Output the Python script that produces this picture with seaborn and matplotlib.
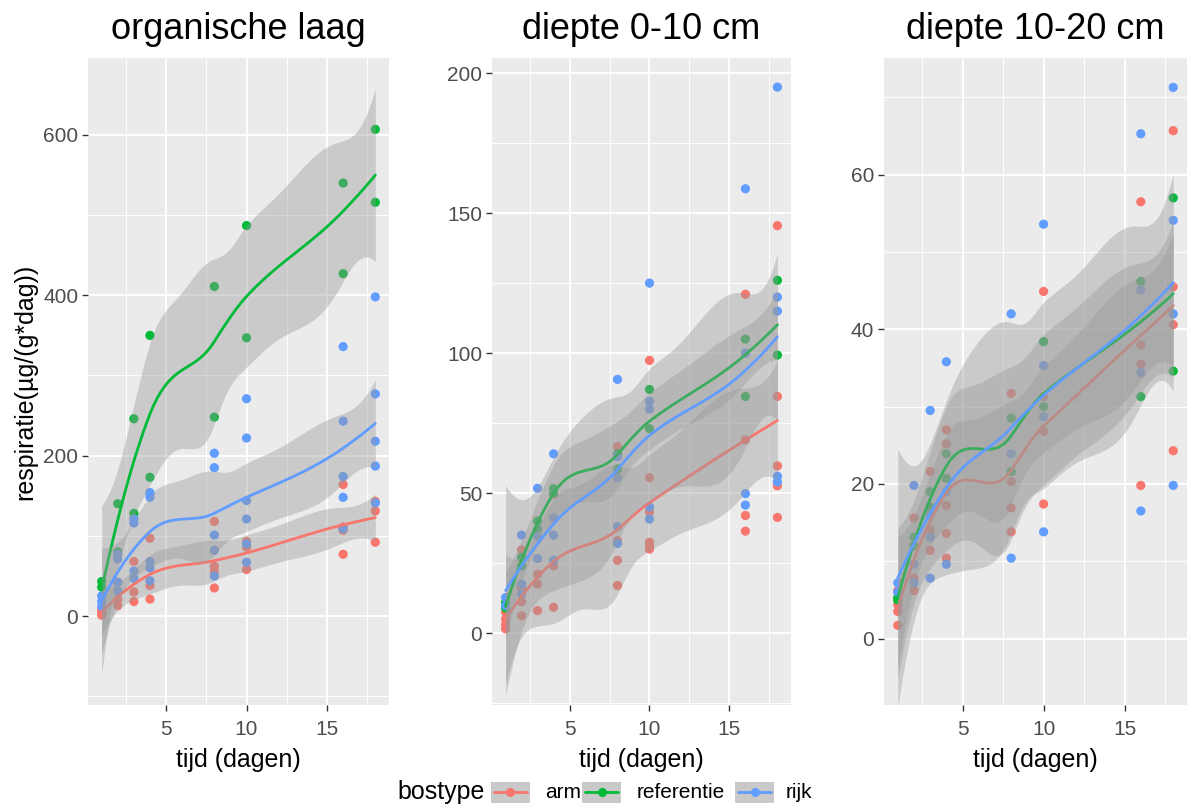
import numpy as np
import pandas as pd
import matplotlib
matplotlib.use("Agg")
import matplotlib.pyplot as plt
import seaborn as sns
from matplotlib.patches import Rectangle
from matplotlib.lines import Line2D

# ---------------- data ----------------
panels = ["organische laag", "diepte 0-10 cm", "diepte 10-20 cm"]
bostypes = ["arm", "referentie", "rijk"]
colors = ["#F8766D", "#00BA38", "#619CFF"]

# organische laag
org_arm_t = [1, 1, 1, 2, 2, 2, 3, 3, 3, 4, 4, 4, 8, 8, 8, 8, 10, 10, 10, 16, 16, 16, 16, 18, 18, 18]
org_arm_y = [8, 4, 1, 42, 21, 13, 68, 30, 18, 97, 38, 21, 118, 62, 56, 35, 93, 86, 58, 164, 111, 107, 77, 143, 131, 92]
org_ref_t = [1, 1, 2, 2, 3, 3, 4, 4, 8, 8, 10, 10, 16, 16, 18, 18]
org_ref_y = [43, 36, 140, 80, 246, 128, 350, 173, 411, 248, 487, 347, 540, 427, 607, 516]
org_rijk_t = [1, 1, 1, 2, 2, 2, 2, 3, 3, 3, 3, 4, 4, 4, 4, 4, 4, 8, 8, 8, 8, 8,
              10, 10, 10, 10, 10, 10, 16, 16, 16, 16, 16, 18, 18, 18, 18, 18]
org_rijk_y = [25, 18, 12, 77, 71, 42, 31, 121, 116, 56, 47, 154, 152, 148, 68, 60, 44, 203, 185, 101, 82, 50,
              271, 222, 144, 121, 90, 67, 336, 243, 174, 148, 109, 398, 277, 218, 187, 141]

# diepte 0-10 cm
d1_arm_t = [1, 1, 1, 1, 2, 2, 2, 2, 3, 3, 3, 4, 4, 4, 8, 8, 8, 8, 10, 10, 10, 10, 10, 10, 16, 16, 16, 16, 18, 18, 18, 18, 18]
d1_arm_y = [7.5, 5, 3, 1.5, 29.7, 16, 11.2, 6.2, 21, 17.5, 8, 49.6, 24, 9.2, 66.6, 33, 26, 17,
            97.4, 55.5, 43.3, 32.4, 31.2, 30, 121, 69, 42, 36.4, 145.5, 84.5, 59.7, 52.6, 41.3]
d1_ref_t = [1, 1, 2, 2, 3, 3, 4, 4, 8, 8, 10, 10, 16, 16, 18, 18]
d1_ref_y = [11, 9, 27, 24, 40, 37, 51.6, 50, 64, 58.6, 87, 73, 105, 84.5, 126, 99.3]
d1_rijk_t = [1, 1, 2, 2, 2, 3, 3, 3, 4, 4, 4, 4, 8, 8, 8, 8, 8, 10, 10, 10, 10, 10, 16, 16, 16, 16, 18, 18, 18, 18, 18]
d1_rijk_y = [12.7, 9.8, 35, 17.5, 13.9, 51.7, 34.5, 26.6, 64, 41.2, 35, 26, 90.6, 63, 55.5, 38, 32,
             125, 82.8, 80, 45, 40.7, 158.7, 100, 49.8, 45.7, 195, 120, 115, 56, 54]

# diepte 10-20 cm
d2_arm_t = [1, 1, 1, 1, 2, 2, 2, 3, 3, 3, 4, 4, 4, 4, 4, 8, 8, 8, 8, 10, 10, 10, 10, 16, 16, 16, 16, 18, 18, 18, 18]
d2_arm_y = [6.2, 4.4, 3.5, 1.7, 15.6, 7.8, 6.2, 21.6, 14.1, 11.4, 27, 25.2, 17.2, 13.6, 10.4, 31.7, 20.3, 16.9, 13.8,
            44.9, 31.3, 26.8, 17.4, 56.5, 38, 35.5, 19.8, 65.7, 45.5, 40.6, 24.3]
d2_ref_t = [1, 1, 2, 2, 3, 3, 4, 4, 8, 8, 10, 10, 16, 16, 18, 18]
d2_ref_y = [5.3, 5.0, 13.1, 12, 19, 17, 23.9, 20.7, 28.5, 21.6, 38.4, 30, 46.2, 31.3, 57, 34.6]
d2_rijk_t = [1, 1, 2, 2, 2, 3, 3, 3, 3, 4, 4, 4, 8, 8, 8, 10, 10, 10, 10, 16, 16, 16, 16, 18, 18, 18, 18]
d2_rijk_y = [7.2, 6, 19.8, 9.6, 7.2, 29.5, 16, 13.1, 7.8, 35.8, 19, 9.6, 42, 23.9, 10.4,
             53.6, 35.3, 28.7, 13.8, 65.3, 45.1, 34.4, 16.5, 71.3, 54.1, 42, 19.8]

series = {
    panels[0]: [(org_arm_t, org_arm_y), (org_ref_t, org_ref_y), (org_rijk_t, org_rijk_y)],
    panels[1]: [(d1_arm_t, d1_arm_y), (d1_ref_t, d1_ref_y), (d1_rijk_t, d1_rijk_y)],
    panels[2]: [(d2_arm_t, d2_arm_y), (d2_ref_t, d2_ref_y), (d2_rijk_t, d2_rijk_y)],
}

rows = []
for p in panels:
    for b, (tt, yy) in zip(bostypes, series[p]):
        for t, v in zip(tt, yy):
            rows.append((p, b, t, v))
df = pd.DataFrame(rows, columns=["panel", "bostype", "tijd", "resp"])


# ---------------- loess (span 0.75, degree 2, vertex interpolation) with 95% CI ----------------
def tq975(dfree):
    z = 1.959964
    return (z + (z**3 + z) / (4 * dfree) + (5 * z**5 + 16 * z**3 + 3 * z) / (96 * dfree**2))


def loess_ci(x, y, xe, span=0.75):
    x = np.asarray(x, float)
    y = np.asarray(y, float)
    n = len(x)
    q = int(np.floor(n * span))

    def local(x0):
        d = np.abs(x - x0)
        h = np.sort(d)[q - 1] * 1.0001 + 1e-9
        w = np.clip(1 - (d / h) ** 3, 0, None) ** 3
        X = np.column_stack([np.ones(n), x - x0, (x - x0) ** 2])
        XtW = X.T * w
        B = np.linalg.solve(XtW @ X, XtW)
        return B[0], B[1]

    verts = np.unique(x)
    V = [local(v) for v in verts]

    def op(pts):
        L = np.zeros((len(pts), n))
        for k, x0 in enumerate(pts):
            j = np.searchsorted(verts, x0, side="right") - 1
            j = min(max(j, 0), len(verts) - 2)
            xa, xb = verts[j], verts[j + 1]
            hh = xb - xa
            t = (x0 - xa) / hh
            h00 = 2 * t**3 - 3 * t**2 + 1
            h10 = t**3 - 2 * t**2 + t
            h01 = -2 * t**3 + 3 * t**2
            h11 = t**3 - t**2
            L[k] = h00 * V[j][0] + h10 * hh * V[j][1] + h01 * V[j + 1][0] + h11 * hh * V[j + 1][1]
        return L

    Lf = op(x)
    res = y - Lf @ y
    M = np.eye(n) - Lf
    MtM = M.T @ M
    d1 = np.trace(MtM)
    d2 = np.trace(MtM @ MtM)
    s = np.sqrt(np.sum(res**2) / d1)
    Le = op(xe)
    fit = Le @ y
    se = s * np.sqrt(np.sum(Le**2, axis=1))
    t = tq975(d1**2 / d2)
    return fit, fit - t * se, fit + t * se


# ---------------- style ----------------
sns.set_style("darkgrid")
plt.rcParams["font.family"] = ["Liberation Sans", "DejaVu Sans"]

W, H = 1190, 805
fig = plt.figure(figsize=(W / 100, H / 100), dpi=100)

lefts = [88, 492, 884]
widths = [301, 299, 303]
top_px, bot_px = 58, 705
ylims = [(-111, 696), (-25.7, 205.4), (-8.6, 75.1)]
ymaj = [[0, 200, 400, 600], [0, 50, 100, 150, 200], [0, 20, 40, 60]]
ymin = [[-100, 100, 300, 500], [-25, 25, 75, 125, 175], [10, 30, 50, 70]]

for i, p in enumerate(panels):
    ax = fig.add_axes([lefts[i] / W, 1 - bot_px / H, widths[i] / W, (bot_px - top_px) / H])
    ax.set_facecolor("#EBEBEB")
    for sp in ax.spines.values():
        sp.set_visible(False)
    sub = df[df.panel == p]
    sns.scatterplot(data=sub, x="tijd", y="resp", hue="bostype", hue_order=bostypes,
                    palette=colors, s=44, edgecolor="none", linewidth=0, legend=False,
                    ax=ax, zorder=2)
    for c, (tt, yy) in zip(colors, series[p]):
        grid = np.linspace(min(tt), max(tt), 80)
        fit, lo, hi = loess_ci(tt, yy, grid)
        ax.fill_between(grid, lo, hi, color="#999999", alpha=0.4, linewidth=0, zorder=3)
        sns.lineplot(x=grid, y=fit, color=c, linewidth=2.0, ax=ax, zorder=3)
    ax.set_xlim(0.15, 18.85)
    ax.set_ylim(*ylims[i])
    ax.set_xticks([5, 10, 15])
    ax.set_xticks([2.5, 7.5, 12.5, 17.5], minor=True)
    ax.set_yticks(ymaj[i])
    ax.set_yticks(ymin[i], minor=True)
    ax.grid(which="major", color="white", linewidth=1.4)
    ax.grid(which="minor", color="white", linewidth=0.7)
    ax.set_axisbelow(True)
    ax.tick_params(which="major", length=4, width=1.0, color="#333333",
                   labelcolor="#4D4D4D", labelsize=15, bottom=True, left=True)
    ax.tick_params(axis="x", which="major", pad=7)
    ax.tick_params(axis="y", which="major", pad=3)
    ax.tick_params(which="minor", length=0)
    ax.set_title(p, fontsize=26, pad=14, color="black")
    ax.set_xlabel("tijd (dagen)", fontsize=18, labelpad=6, color="black")
    if i == 0:
        ax.set_ylabel("respiratie(µg/(g*dag))", fontsize=18, labelpad=4, color="black")
    else:
        ax.set_ylabel("")

# ---------------- legend (bottom, ggplot-like) ----------------
ly = 792
fig.text(397 / W, 1 - ly / H, "bostype", fontsize=18, ha="left", va="center", color="black")
key_x = [491, 582, 735]
lab_x = [545, 637, 786]
kw, kh = 39, 21
for kx, lx, c, lab in zip(key_x, lab_x, colors, bostypes):
    fig.patches.append(Rectangle((kx / W, 1 - (ly + kh / 2) / H), kw / W, kh / H,
                                 transform=fig.transFigure, facecolor="#C9C9C9",
                                 edgecolor="none"))
    fig.lines.append(Line2D([(kx + 3) / W, (kx + kw - 3) / W], [1 - ly / H, 1 - ly / H],
                            transform=fig.transFigure, color=c, linewidth=2.0))
    fig.lines.append(Line2D([(kx + kw / 2) / W], [1 - ly / H], transform=fig.transFigure,
                            color=c, marker="o", markersize=6.5, markeredgewidth=0))
    fig.text(lx / W, 1 - ly / H, lab, fontsize=15, ha="left", va="center", color="black")

fig.savefig("out.png", dpi=100, facecolor="white")
